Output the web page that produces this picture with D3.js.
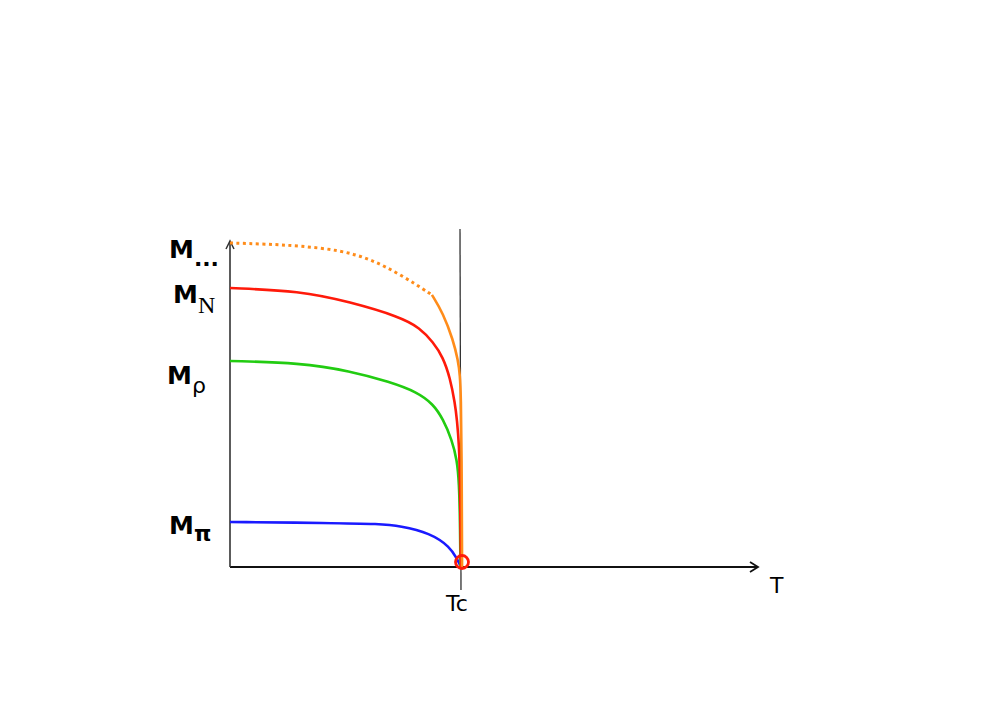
<!DOCTYPE html>
<html><head><meta charset="utf-8">
<script src="https://cdn.jsdelivr.net/npm/d3@7"></script>
<style>body{margin:0;background:#fff}svg{display:block}</style>
</head><body>
<script>
// T in units of Tc, masses in arbitrary units (M... = 1)
const levelLabels = ["M...", "MN", "Mρ", "Mπ"];
const orangeDottedT = [0, 0.152, 0.304, 0.478, 0.609, 0.739, 0.878];
const orangeDottedM = [1.0, 0.997, 0.991, 0.978, 0.951, 0.904, 0.840];
const orangeSolidT = [0.878, 0.926, 0.970, 0.991, 1.0, 1.004, 1.007, 1.009];
const orangeSolidM = [0.840, 0.784, 0.701, 0.639, 0.593, 0.525, 0.361, 0.0];
const redT = [0, 0.304, 0.522, 0.739, 0.826, 0.883, 0.926, 0.957, 0.978, 0.987, 0.996, 1.0, 1.002, 1.004];
const redM = [0.861, 0.852, 0.818, 0.772, 0.738, 0.694, 0.648, 0.583, 0.506, 0.454, 0.377, 0.269, 0.114, 0];
const greenT = [0, 0.304, 0.522, 0.696, 0.813, 0.883, 0.926, 0.965, 0.987, 0.996, 1.0, 1.002];
const greenM = [0.636, 0.630, 0.605, 0.571, 0.540, 0.503, 0.457, 0.392, 0.330, 0.259, 0.145, 0];
const blueT = [0, 0.435, 0.652, 0.739, 0.870, 0.957, 0.987, 1.0];
const blueM = [0.139, 0.136, 0.133, 0.127, 0.105, 0.062, 0.025, 0.006];
const Tc = 1;

const W = 997, H = 704;
const svg = d3.select("body").append("svg").attr("width", W).attr("height", H);
const x = d3.scaleLinear().domain([0, 1]).range([230, 460]);
const y = d3.scaleLinear().domain([0, 1]).range([567, 243]);
const line = d3.line().x(d => x(d[0])).y(d => y(d[1])).curve(d3.curveBasis);
const zip = (a, b) => a.map((v, i) => [v, b[i]]);

const axisColor = "#333";
// vertical Tc line
svg.append("line").attr("x1", x(Tc)).attr("x2", x(Tc) + 1).attr("y1", 229).attr("y2", 590)
  .attr("stroke", axisColor).attr("stroke-width", 1.3);

// axes
svg.append("line").attr("x1", x(0)).attr("x2", 758).attr("y1", y(0)).attr("y2", y(0))
  .attr("stroke", "#111").attr("stroke-width", 1.8);
svg.append("line").attr("x1", x(0)).attr("x2", x(0)).attr("y1", y(0)).attr("y2", 241)
  .attr("stroke", axisColor).attr("stroke-width", 1.6);
svg.append("path").attr("d", `M750,${y(0)-5} L758,${y(0)} L750,${y(0)+5}`)
  .attr("fill", "none").attr("stroke", "#111").attr("stroke-width", 1.8);
svg.append("path").attr("d", `M${x(0)-4},249 L${x(0)},241 L${x(0)+4},249`)
  .attr("fill", "none").attr("stroke", axisColor).attr("stroke-width", 1.5);

const curves = [
  {d: zip(blueT, blueM), c: "#1a1aff"},
  {d: zip(greenT, greenM), c: "#22cc11"},
  {d: zip(redT, redM), c: "#ff1a0a"},
  {d: zip(orangeSolidT, orangeSolidM), c: "#ff8c1a"},
];
svg.append("path").attr("d", line(zip(orangeDottedT, orangeDottedM)))
  .attr("fill", "none").attr("stroke", "#ff8c1a").attr("stroke-width", 3)
  .attr("stroke-dasharray", "3,3.5");
curves.forEach(k => svg.append("path").attr("d", line(k.d)).attr("fill", "none")
  .attr("stroke", k.c).attr("stroke-width", 2.6));

// red circle
svg.append("circle").attr("cx", x(Tc) + 2).attr("cy", y(0) - 5).attr("r", 6.5)
  .attr("fill", "none").attr("stroke", "#ff1a0a").attr("stroke-width", 2.8);

const font = "'Comic Sans MS', 'DejaVu Sans', sans-serif";
function mLabel(px, py, sub, subFont, subSize, dy, subWeight) {
  const t = svg.append("text").attr("x", px).attr("y", py)
    .attr("font-family", font).attr("font-size", 25).attr("font-weight", "bold").attr("fill", "#000");
  t.append("tspan").text("M");
  t.append("tspan").attr("dy", dy).attr("font-family", subFont).attr("font-size", subSize)
    .attr("font-weight", subWeight).text(sub);
}
mLabel(169, 258, "...", "'DejaVu Sans', sans-serif", 22, 8, "bold");
mLabel(173, 303, "N", "'Liberation Serif', serif", 24, 10, "normal");
mLabel(167, 384, "ρ", "'DejaVu Sans', sans-serif", 22, 9, "normal");
mLabel(169, 534, "π", "'DejaVu Sans', sans-serif", 22, 7, "bold");

svg.append("text").attr("x", 446).attr("y", 611).attr("font-family", font).attr("font-size", 22)
  .attr("fill", "#000").text("Tc");
svg.append("text").attr("x", 770).attr("y", 593).attr("font-family", font).attr("font-size", 22)
  .attr("fill", "#000").text("T");
</script>
</body></html>
